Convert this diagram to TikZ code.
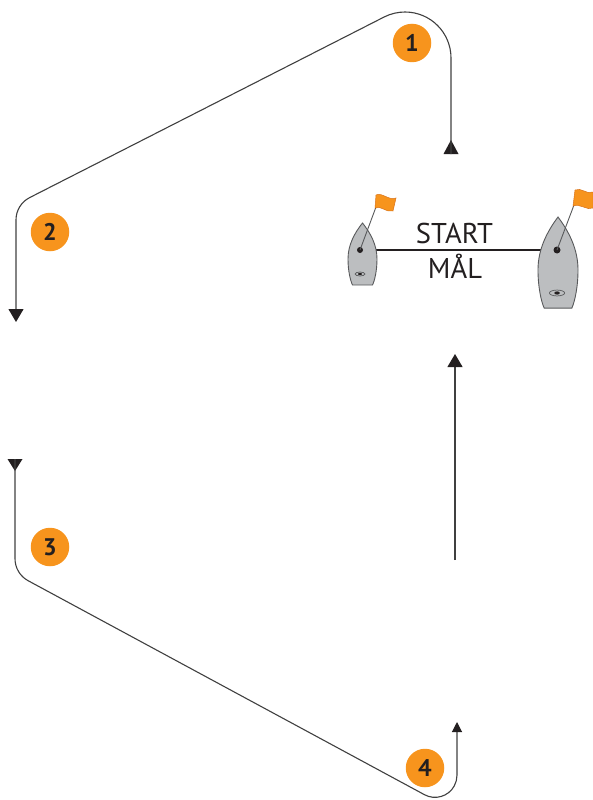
\documentclass[tikz,border=0pt]{standalone}
\usepackage{fontspec}
\setmainfont{PT Sans}
\usetikzlibrary{arrows.meta}
\definecolor{course}{HTML}{404040}
\definecolor{markorange}{HTML}{F7941D}
\definecolor{ink}{HTML}{231F20}
\definecolor{hullgray}{HTML}{BCBEC0}
\definecolor{hullline}{HTML}{58595B}
\definecolor{flagline}{HTML}{D9731A}
\begin{document}
\begin{tikzpicture}[x=1pt,y=1pt,
  courseline/.style={draw=course,line width=1.1pt},
  tipbig/.style={-{Triangle[width=15pt,length=13pt,color=ink]}},
  tipsmall/.style={-{Triangle[width=10pt,length=10pt,color=ink]}},
  marker/.style={circle,fill=markorange,minimum size=38.5pt,inner sep=0pt,text=ink,font=\bfseries\fontsize{24}{24}\selectfont},
  hullshape/.style={fill=hullgray,draw=hullline,line width=0.9pt},
  flagshape/.style={fill=markorange,draw=flagline,line width=0.5pt},
  pole/.style={draw=hullline,line width=0.9pt},
  boattext/.style={text=ink,font=\fontsize{28.6}{30}\selectfont,inner sep=0pt,anchor=base}
]
\useasboundingbox (0,0) rectangle (593,-800);

% course legs
\coordinate (a0) at (451,-154);
\coordinate (a1) at (16,-322);
\fill[ink] (443.5,-154) -- (458.5,-154) -- (451,-140) -- cycle;
\draw[courseline,tipbig] (a0) -- (451,-58) arc[start angle=0,end angle=117,radius=46]
  -- (29.65,-197.6) arc[start angle=117,end angle=180,radius=25] -- (a1);

\coordinate (b0) at (15,-459);
\coordinate (b1) at (457,-722);
\fill[ink] (7.5,-459) -- (22.5,-459) -- (15,-471) -- cycle;
\draw[courseline,tipsmall] (b0) -- (15,-558.7) arc[start angle=180,end angle=241.6,radius=25]
  -- (424.5,-794.7) arc[start angle=241.6,end angle=360,radius=22] -- (b1);

\coordinate (c0) at (455,-560);
\coordinate (c1) at (455,-354);
\draw[courseline,tipbig] (c0) -- (c1);

% marks
\node[marker] (m1) at (412,-43) {1};
\node[marker] (m2) at (50,-232) {2};
\node[marker] (m3) at (50,-547) {3};
\node[marker] (m4) at (425,-768) {4};

% start line
\coordinate (ldot) at (360,-250);
\coordinate (rdot) at (557,-250);
\draw[draw=ink,line width=1.2pt] (ldot) -- (rdot);

% left boat
\begin{scope}[shift={(362.5,-223)}]
  \path[hullshape] (0,0) .. controls (8,-10) and (14.5,-22) .. (14.5,-36)
    .. controls (14.5,-48) and (12,-58) .. (10,-62) -- (-10,-62)
    .. controls (-12,-58) and (-14.5,-48) .. (-14.5,-36)
    .. controls (-14.5,-22) and (-8,-10) .. (0,0) -- cycle;
  \draw[hullline,line width=0.7pt] (-2.5,-51) ellipse [x radius=5,y radius=2];
  \fill[ink] (-2.5,-51) ellipse [x radius=2,y radius=1.1];
\end{scope}
% right boat
\begin{scope}[shift={(558,-217)},xscale=1.38,yscale=1.47]
  \path[hullshape] (0,0) .. controls (8,-10) and (14.5,-22) .. (14.5,-36)
    .. controls (14.5,-48) and (12,-58) .. (10,-62) -- (-10,-62)
    .. controls (-12,-58) and (-14.5,-48) .. (-14.5,-36)
    .. controls (-14.5,-22) and (-8,-10) .. (0,0) -- cycle;
  \draw[hullline,line width=0.7pt] (-0.7,-51.7) ellipse [x radius=5.5,y radius=2];
  \fill[ink] (-0.7,-51.7) ellipse [x radius=2,y radius=1.1];
\end{scope}

\fill[ink] (ldot) circle (3);
\fill[ink] (rdot) circle (3.5);

% flags
\coordinate (lflag) at (376,-207);
\coordinate (rflag) at (574,-205);
\draw[pole] (ldot) -- (lflag);
\draw[pole] (rdot) -- (rflag);
\path[flagshape] (376,-195) .. controls (382,-192) and (389,-201) .. (396,-198)
  -- (393,-211) .. controls (386,-213) and (381,-205) .. (375,-208) -- cycle;
\path[flagshape] (575,-190) .. controls (581,-187) and (587,-195) .. (593,-192)
  -- (593,-208) .. controls (587,-211) and (580,-203) .. (573,-206) -- cycle;

% texts
\node[boattext] (start) at (454.5,-243) {START};
\node[boattext] (mal) at (455,-278) {MÅL};
\end{tikzpicture}
\end{document}
